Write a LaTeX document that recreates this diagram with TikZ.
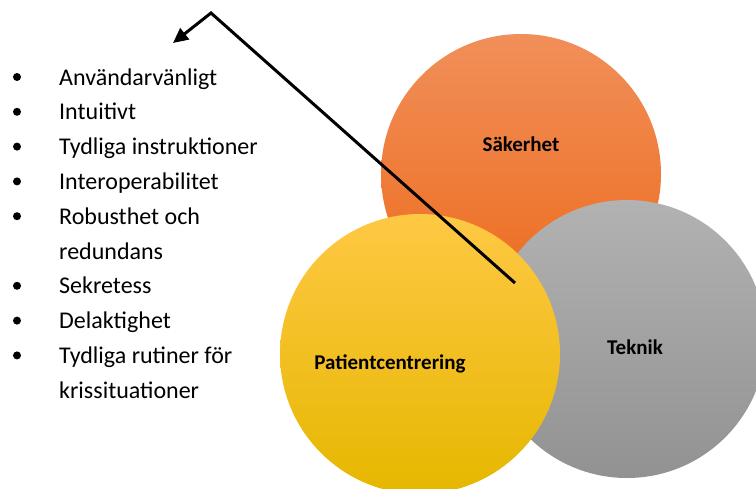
\documentclass[tikz,border=0pt]{standalone}
\usepackage{fontspec}
\setmainfont{Carlito}
\usepackage{xcolor}
\usetikzlibrary{positioning, arrows.meta}
\definecolor{orangetop}{HTML}{F18F5A}
\definecolor{orangebot}{HTML}{ED6A1A}
\definecolor{yellowtop}{HTML}{FFC844}
\definecolor{yellowmid}{HTML}{FEC20C}
\definecolor{yellowbot}{HTML}{E6B700}
\definecolor{graytop}{HTML}{B2B2B2}
\definecolor{graybot}{HTML}{929292}

\begin{document}
\begin{tikzpicture}[x=1pt, y=-1pt,
    venn/.style={circle, inner sep=0pt, minimum size=#1, draw=none},
    venntext/.style={anchor=base, inner sep=0pt, font=\fontsize{21}{24}\selectfont\bfseries},
    listtext/.style={anchor=base west, inner sep=0pt, font=\fontsize{24}{28}\selectfont},
    listdot/.style={circle, fill=black, inner sep=0pt, minimum size=8pt}]
  \clip (0,0) rectangle (756,488);

  \node[venn=280pt, top color=orangetop, bottom color=orangebot] (sakerhet) at (521,174) {};
  \node[venn=278pt, top color=graytop, bottom color=graybot] (teknik) at (627,339) {};
  \node[venn=280pt, top color=yellowtop, middle color=yellowmid, bottom color=yellowbot] (patient) at (420,354) {};

  \node[venntext] (sakerhetlabel) at (521,151) {Säkerhet};
  \node[venntext] (teknikbabel) at (635,354) {Teknik};
  \node[venntext] (patientlabel) at (390,369) {Patientcentrering};

  \foreach \y/\b/\txt [count=\i] in {85/1/Användarvänligt, 119.8/1/Intuitivt,
      154.6/1/Tydliga instruktioner, 189.4/1/Interoperabilitet,
      224.2/1/Robusthet och, 259/0/redundans, 293.8/1/Sekretess,
      328.6/1/Delaktighet, 363.4/1/Tydliga rutiner för, 398.2/0/krissituationer}{
    \node[listtext] (item\i) at (59,\y) {\txt};
    \ifnum\b=1
      \node[listdot] (dot\i) at (17,\y-8) {};
    \fi
  }

  \coordinate (start) at (515,283);
  \coordinate (bend) at (211,13);
  \coordinate (tip) at (173,43);
  \draw[line width=3pt, -{Triangle[length=15pt, width=14pt]}] (start) -- (bend) -- (tip);
\end{tikzpicture}
\end{document}
